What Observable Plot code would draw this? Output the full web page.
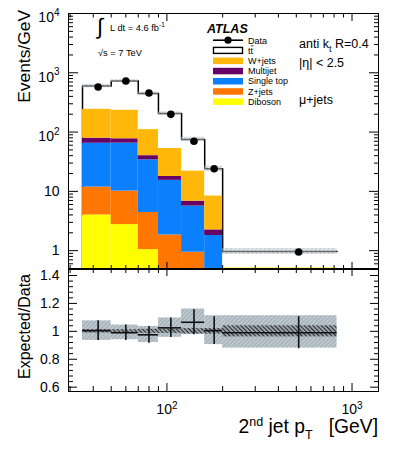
<!DOCTYPE html>
<html><head><meta charset="utf-8">
<script src="https://cdn.jsdelivr.net/npm/d3@7"></script>
<script src="https://cdn.jsdelivr.net/npm/@observablehq/plot@0.6"></script>
<style>
html,body{margin:0;padding:0;background:#fff;}
#wrap{position:relative;width:399px;height:449px;overflow:hidden;background:#fff;}
#wrap > svg{position:absolute;left:0;}
</style></head><body><div id="wrap"></div>
<script>
// ---------- data ----------
const binLo = [35, 50, 70, 90, 120, 160, 200];
const binHi = [50, 70, 90, 120, 160, 200, 830];
const dataVals = [577, 728, 457, 199, 70, 24, 0.95];
const ttbar     = [358, 492, 336, 152, 53, 15.7, 0.46];
const wjets     = [163, 156, 70, 35, 15.1, 6.1, 0];
const multijet  = [14, 12, 6, 2.5, 1.2, 0.44, 0];
const singletop = [53, 55, 29.6, 13.5, 4.7, 1.45, 0];
const zjets     = [7.8, 7.35, 3.36, 1.44, 0.74, 0.25, 0];
const diboson   = [4.0, 2.75, 1.04, 0.4, 0.2, 0.1, 0.51];
const ratioVals = [1.005, 0.99, 0.975, 1.025, 1.065, 1.005, 0.99];
const bandLo    = [0.935, 0.94, 0.92, 0.957, 0.98, 0.905, 0.88];
const bandHi    = [1.075, 1.045, 1.035, 1.096, 1.16, 1.112, 1.112];
const statErr   = [0.07, 0.055, 0.06, 0.07, 0.09, 0.1, 0.115];
const mcStat    = [0.012, 0.012, 0.015, 0.015, 0.02, 0.02, 0.04];

const yTickVals = [1, 10, 100, 1000, 10000];
const yTickLabels = ["1", "10", "10^2", "10^3", "10^4"];
const xTickVals = [100, 1000];
const xTickLabels = ["10^2", "10^3"];
const rTickVals = [0.6, 0.8, 1.0, 1.2, 1.4];
const rTickLabels = ["0.6", "0.8", "1", "1.2", "1.4"];

const compNames  = ["Diboson", "Z+jets", "Single top", "Multijet", "W+jets"];
const compColors = ["#ffff00", "#ff7700", "#0a80ff", "#660066", "#ffb80a"];
const compVals   = [diboson, zjets, singletop, multijet, wjets];

// ---------- setup ----------
const ns = "http://www.w3.org/2000/svg";
const FONT = "Liberation Sans, Arial, Helvetica, sans-serif";
const xDomain = [29.4, 1390];
const yDomain = [0.5, 10000];
const rDomain = [0.569, 1.443];
const n = binLo.length;
const mids = binLo.map((lo, i) => (lo + binHi[i]) / 2);

const yMinor = [];
for (let e = -1; e <= 3; e++) for (let k = 2; k <= 9; k++) { const v = k * 10 ** e; if (v >= yDomain[0] && v <= yDomain[1]) yMinor.push(v); }
const xMinor = [];
for (let e = 1; e <= 3; e++) for (let k = 2; k <= 9; k++) { const v = k * 10 ** e; if (v > xDomain[0] && v < xDomain[1]) xMinor.push(v); }
const rMinor = d3.range(0.6, 1.44, 0.04).filter(v => !rTickVals.some(t => Math.abs(t - v) < 1e-6));

// stacked background rows + totals
const stackByComp = compVals.map(() => []);
const ttRows = [], totals = [];
for (let i = 0; i < n; i++) {
  let cum = 0;
  compVals.forEach((vals, c) => {
    const v = vals[i];
    if (v > 0) stackByComp[c].push({x1: binLo[i], x2: binHi[i], y1: cum > 0 ? cum : 1e-3, y2: cum + v});
    cum += v;
  });
  const tot = cum + ttbar[i];
  totals.push(tot);
  ttRows.push({x1: binLo[i], x2: binHi[i], y1: 1e-3, y2: tot});
}
const bandRows = d3.range(n).map(i => ({x1: binLo[i], x2: binHi[i], y1: totals[i] * bandLo[i] / ratioVals[i], y2: totals[i] * bandHi[i] / ratioVals[i]}));
const stepPts = [{x: binLo[0], y: yDomain[0]}];
for (let i = 0; i < n; i++) stepPts.push({x: binLo[i], y: totals[i]});
stepPts.push({x: binHi[n - 1], y: totals[n - 1]});
const dataRows = d3.range(n).map(i => ({x: mids[i], y: dataVals[i]}));

const empty = () => "";
function lab(vals, labels) { return v => { const i = vals.findIndex(t => Math.abs(t - v) < 1e-9); return i >= 0 ? labels[i] : ""; }; }

function yTicks(ticks, majorLen, minorLen, minor, labels) {
  return [
    Plot.axisY({anchor: "left", ticks, tickSize: -majorLen, tickFormat: empty, label: null}),
    Plot.axisY({anchor: "right", ticks, tickSize: -majorLen, tickFormat: empty, label: null}),
    Plot.axisY({anchor: "left", ticks: minor, tickSize: -minorLen, tickFormat: empty, label: null}),
    Plot.axisY({anchor: "right", ticks: minor, tickSize: -minorLen, tickFormat: empty, label: null}),
    Plot.axisY({anchor: "left", ticks, tickSize: 0, tickPadding: 9, tickFormat: labels, label: null, fontSize: 14})
  ];
}
function xTicks(topMaj, topMin, botMaj, botMin) {
  return [
    Plot.axisX({anchor: "top", ticks: xTickVals, tickSize: -topMaj, tickFormat: empty, label: null}),
    Plot.axisX({anchor: "top", ticks: xMinor, tickSize: -topMin, tickFormat: empty, label: null}),
    Plot.axisX({anchor: "bottom", ticks: xTickVals, tickSize: -botMaj, tickFormat: empty, label: null}),
    Plot.axisX({anchor: "bottom", ticks: xMinor, tickSize: -botMin, tickFormat: empty, label: null})
  ];
}

// ---------- main panel ----------
const main = Plot.plot({
  width: 399, height: 269,
  marginLeft: 68, marginRight: 21, marginTop: 13, marginBottom: 1,
  style: {fontFamily: FONT, fontSize: "14px", color: "black", background: "transparent"},
  x: {type: "log", domain: xDomain},
  y: {type: "log", domain: yDomain},
  marks: [
    Plot.rect(ttRows, {x1: "x1", x2: "x2", y1: "y1", y2: "y2", fill: "white", clip: true}),
    Plot.line(stepPts, {x: "x", y: "y", curve: "step-after", stroke: "black", strokeWidth: 1.5, clip: true}),
    ...stackByComp.map((rows, c) => Plot.rect(rows, {x1: "x1", x2: "x2", y1: "y1", y2: "y2", fill: compColors[c], clip: true})),
    Plot.rect(bandRows, {x1: "x1", x2: "x2", y1: "y1", y2: "y2", fill: "url(#bandMain)", clip: true}),
    Plot.dot(dataRows, {x: "x", y: "y", r: 3.8, fill: "black", stroke: "none"}),
    Plot.frame({stroke: "black", strokeWidth: 1}),
    ...yTicks(yTickVals, 10, 5, yMinor, lab(yTickVals, yTickLabels)),
    ...xTicks(7, 3.5, 6, 3)
  ]
});

// ---------- ratio panel ----------
const ratioRows = d3.range(n).map(i => ({x1: binLo[i], x2: binHi[i], mid: mids[i], r: ratioVals[i], lo: bandLo[i], hi: bandHi[i], m1: 1 - mcStat[i], m2: 1 + mcStat[i], e1: ratioVals[i] - statErr[i], e2: ratioVals[i] + statErr[i]}));
const ratio = Plot.plot({
  width: 399, height: 181,
  marginLeft: 68, marginRight: 21, marginTop: 1, marginBottom: 58,
  style: {fontFamily: FONT, fontSize: "14px", color: "black", background: "transparent"},
  x: {type: "log", domain: xDomain},
  y: {domain: rDomain},
  marks: [
    Plot.rect(ratioRows, {x1: "x1", x2: "x2", y1: "lo", y2: "hi", fill: "url(#bandOuter)"}),
    Plot.rect(ratioRows, {x1: "x1", x2: "x2", y1: "m1", y2: "m2", fill: "url(#bandInner)"}),
    Plot.ruleY(ratioRows, {y: "r", x1: "x1", x2: "x2", stroke: "#111", strokeWidth: 1.6}),
    Plot.ruleX(ratioRows, {x: "mid", y1: "e1", y2: "e2", stroke: "#111", strokeWidth: 1.6}),
    Plot.frame({stroke: "black", strokeWidth: 1}),
    ...yTicks(rTickVals, 9, 5, rMinor, lab(rTickVals, rTickLabels)),
    ...xTicks(6, 3, 8, 5),
    Plot.axisX({anchor: "bottom", ticks: xTickVals, tickSize: 0, tickPadding: 13, tickFormat: lab(xTickVals, xTickLabels), label: null, fontSize: 14})
  ]
});

function addDefs(svg) {
  const defs = document.createElementNS(ns, "defs");
  defs.innerHTML = `
  <pattern id="bandMain" patternUnits="userSpaceOnUse" width="3" height="3" patternTransform="rotate(45)">
    <rect width="3" height="3" fill="#c3ccd2" fill-opacity="0.45"/>
    <line x1="0.5" y1="0" x2="0.5" y2="3" stroke="#9aa8b2" stroke-width="1" stroke-opacity="0.5"/>
  </pattern>
  <pattern id="bandOuter" patternUnits="userSpaceOnUse" width="3" height="3" patternTransform="rotate(45)">
    <rect width="3" height="3" fill="#bcc7ce"/>
    <line x1="0.5" y1="0" x2="0.5" y2="3" stroke="#a0adb6" stroke-width="1"/>
  </pattern>
  <pattern id="bandInner" patternUnits="userSpaceOnUse" width="3" height="3" patternTransform="rotate(-45)">
    <rect width="3" height="3" fill="#9aa6ae"/>
    <line x1="0.5" y1="0" x2="0.5" y2="3" stroke="#2a2a2a" stroke-width="1.1"/>
  </pattern>`;
  svg.insertBefore(defs, svg.firstChild);
}
function supify(svg, baseShift, expShift) {
  svg.querySelectorAll("text").forEach(t => {
    const s = t.textContent;
    if (!s.includes("^")) return;
    const [b, e] = s.split("^");
    t.textContent = "";
    const tb = document.createElementNS(ns, "tspan");
    tb.setAttribute("dy", baseShift); tb.textContent = b;
    const te = document.createElementNS(ns, "tspan");
    te.setAttribute("dy", expShift); te.setAttribute("font-size", "10px"); te.textContent = e;
    t.appendChild(tb); t.appendChild(te);
  });
}
addDefs(main); addDefs(ratio);
supify(main, "4.5", "-6.5");
supify(ratio, "0", "-5");

const wrap = document.getElementById("wrap");
main.style.top = "0px";
ratio.style.top = "268px";
wrap.appendChild(main);
wrap.appendChild(ratio);

// ---------- overlay: titles, annotations, legend ----------
const ov = document.createElementNS(ns, "svg");
ov.setAttribute("width", 399); ov.setAttribute("height", 449);
ov.style.top = "0px";
ov.setAttribute("font-family", FONT);
wrap.appendChild(ov);
function el(tag, attrs, html) {
  const e = document.createElementNS(ns, tag);
  for (const k in attrs) e.setAttribute(k, attrs[k]);
  if (html != null) e.innerHTML = html;
  ov.appendChild(e);
  return e;
}
// axis titles
el("text", {transform: "translate(30,10) rotate(-90)", "text-anchor": "end", "font-size": 17.4}, "Events/GeV");
el("text", {transform: "translate(30,274) rotate(-90)", "text-anchor": "end", "font-size": 16}, "Expected/Data");
el("text", {x: 378, y: 433, "text-anchor": "end", "font-size": 19.3, "xml:space": "preserve"},
  '2<tspan dy="-7.5" font-size="12.5">nd</tspan><tspan dy="7.5"> jet p</tspan><tspan dy="6" font-size="12.5">T</tspan><tspan dy="-6" xml:space="preserve">   [GeV]</tspan>');
// luminosity and energy
el("text", {x: 97, y: 34, "font-size": 22}, "∫");
el("text", {x: 110, y: 31, "font-size": 9.3}, 'L dt = 4.6 fb<tspan dy="-4" font-size="6.5">-1</tspan>');
el("text", {x: 98, y: 55.5, "font-size": 9.3}, "√s = 7 TeV");
// ATLAS
el("text", {x: 207, y: 32.5, "font-size": 12.5, "font-weight": "bold", "font-style": "italic"}, "ATLAS");
// right annotations
el("text", {x: 299, y: 48, "font-size": 12.5}, 'anti k<tspan dy="3.5" font-size="9">t</tspan><tspan dy="-3.5"> R=0.4</tspan>');
el("text", {x: 299, y: 66.5, "font-size": 12.5}, "|η| &lt; 2.5");
el("text", {x: 299, y: 104, "font-size": 12.5}, "μ+jets");
// legend
const legNames = ["Data", "tt̄"].concat(compNames.slice().reverse());
const legColors = [null, null].concat(compColors.slice().reverse());
const legX = 213, legW = 30, legTX = 248, legY0 = 40.2, legDY = 10.2;
legNames.forEach((name, i) => {
  const cy = legY0 + i * legDY;
  if (i === 0) {
    el("line", {x1: legX, x2: legX + legW, y1: cy, y2: cy, stroke: "black", "stroke-width": 1.6});
    el("circle", {cx: legX + legW / 2, cy, r: 3.6, fill: "black"});
  } else if (i === 1) {
    el("rect", {x: legX + 0.5, y: cy - 3, width: legW - 1, height: 6, fill: "white", stroke: "black", "stroke-width": 1.4});
  } else {
    el("rect", {x: legX, y: cy - 3, width: legW, height: 6.5, fill: legColors[i]});
  }
  if (i === 1) {
    // t t-bar: draw the bar over the second t
    el("text", {x: legTX, y: cy + 3.3, "font-size": 9}, 'tt');
    el("line", {x1: legTX + 2.7, x2: legTX + 5.6, y1: cy - 4.6, y2: cy - 4.6, stroke: "black", "stroke-width": 0.7});
  } else {
    el("text", {x: legTX, y: cy + 3.3, "font-size": 9}, name);
  }
});
</script></body></html>
